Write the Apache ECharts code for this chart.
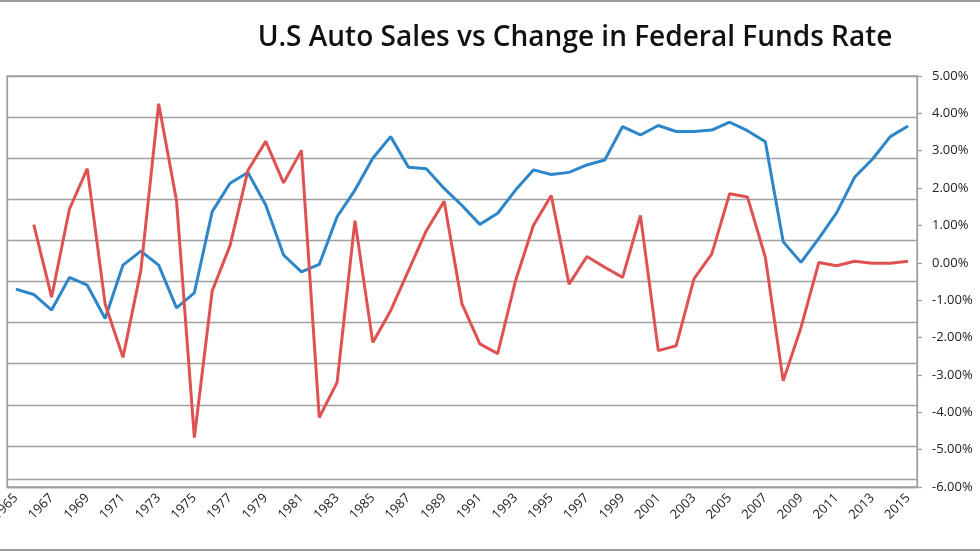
<!DOCTYPE html>
<html>
<head>
<meta charset="utf-8">
<script src="https://cdn.jsdelivr.net/npm/echarts@6/dist/echarts.min.js"></script>
<style>html,body{margin:0;padding:0;background:#fff}#c{width:980px;height:552px}</style>
</head>
<body>
<div id="c"></div>
<script>
var years = [];
for (var y = 1965; y <= 2015; y++) years.push(String(y));

// U.S auto sales (millions of units, primary axis, labels not visible)
var autoSales = [9.63, 9.37, 8.61, 10.2, 9.82, 8.2, 10.8, 11.48, 10.8, 8.72,
  9.45, 13.4, 14.78, 15.3, 13.72, 11.29, 10.47, 10.83, 13.15, 14.45,
  16.0, 17.05, 15.56, 15.49, 14.53, 13.7, 12.78, 13.32, 14.45, 15.43,
  15.21, 15.31, 15.67, 15.91, 17.54, 17.13, 17.59, 17.3, 17.3, 17.37,
  17.75, 17.34, 16.8, 11.93, 10.93, 12.1, 13.35, 15.07, 15.95, 17.05, 17.57];

// Change in federal funds rate (percent, secondary axis)
var fedChange = [null, 1.02, -0.92, 1.44, 2.52, -1.1, -2.53, -0.21, 4.26, 1.67,
  -4.68, -0.75, 0.46, 2.47, 3.25, 2.14, 3.01, -4.14, -3.2, 1.13,
  -2.13, -1.28, -0.21, 0.86, 1.65, -1.1, -2.17, -2.43, -0.48, 1.0,
  1.8, -0.57, 0.17, -0.12, -0.39, 1.27, -2.35, -2.22, -0.43, 0.24,
  1.85, 1.76, 0.15, -3.16, -1.73, 0.01, -0.08, 0.04, -0.01, -0.01, 0.04];

var chart = echarts.init(document.getElementById('c'));
chart.setOption({
  animation: false,
  backgroundColor: '#fff',
  title: {
    text: 'U.S Auto Sales vs Change in Federal Funds Rate',
    left: 570, top: 19, textAlign: 'center',
    textStyle: {fontFamily: 'Open Sans', fontSize: 28, fontWeight: 600, color: '#111'}
  },
  graphic: [
    {type: 'line', shape: {x1: 0, y1: 1, x2: 980, y2: 1}, style: {stroke: '#9a9a9a', lineWidth: 2}},
    {type: 'line', shape: {x1: 0, y1: 550, x2: 980, y2: 550}, style: {stroke: '#9a9a9a', lineWidth: 2}}
  ],
  grid: {left: 7, right: 63, top: 76, bottom: 65, containLabel: false, outerBoundsMode: 'none',
    show: true, borderColor: '#a0a0a0', borderWidth: 1.3},
  xAxis: {
    type: 'category', data: years, boundaryGap: true,
    axisLine: {lineStyle: {color: '#a0a0a0', width: 1.3}},
    axisTick: {show: false},
    axisLabel: {interval: 1, rotate: 45, fontFamily: 'Open Sans', fontSize: 13, color: '#222', margin: 9}
  },
  yAxis: [
    {
      type: 'value', min: 0, max: 20, interval: 2, position: 'left',
      axisLine: {show: true, lineStyle: {color: '#a0a0a0', width: 1.3}},
      axisTick: {show: false}, axisLabel: {show: false},
      splitLine: {lineStyle: {color: '#a0a0a0', width: 1.3}}
    },
    {
      type: 'value', min: -6, max: 5, interval: 1, position: 'right',
      axisLine: {show: true, lineStyle: {color: '#a0a0a0', width: 1.3}},
      axisTick: {show: true, length: 5, lineStyle: {color: '#a0a0a0', width: 1.3}},
      splitLine: {show: false},
      axisLabel: {fontFamily: 'Open Sans', fontSize: 13, color: '#222', margin: 15,
        formatter: function (v) { return v.toFixed(2) + '%'; }}
    }
  ],
  series: [
    {
      name: 'U.S Auto Sales', type: 'line', yAxisIndex: 0, data: autoSales,
      symbol: 'none', lineStyle: {color: '#2d86c9', width: 3}, itemStyle: {color: '#2d86c9'},
      markLine: {silent: true, symbol: 'none', label: {show: false},
        lineStyle: {color: '#a0a0a0', width: 1.3, type: 'solid'}, data: [{yAxis: 0.36}]}
    },
    {
      name: 'Change in Federal Funds Rate', type: 'line', yAxisIndex: 1, data: fedChange,
      symbol: 'none', lineStyle: {color: '#e05252', width: 3}, itemStyle: {color: '#e05252'}
    }
  ]
});
</script>
</body>
</html>
